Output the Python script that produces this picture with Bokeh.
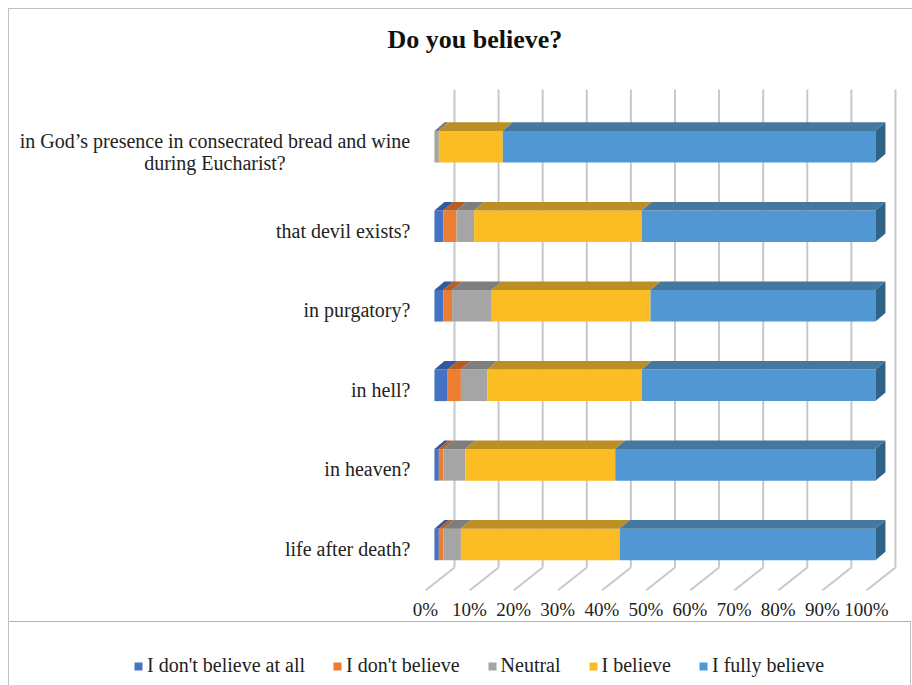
from bokeh.plotting import figure
from bokeh.layouts import column
from bokeh.models import ColumnDataSource, FixedTicker, PrintfTickFormatter, Legend, LegendItem, Range1d
from bokeh.core.properties import value
from bokeh.embed import file_html
from bokeh.resources import INLINE

# ---------------- data (top to bottom as shown) ----------------
categories = [
    "in God\u2019s presence in consecrated bread and wine\nduring Eucharist?",
    "that devil exists?",
    "in purgatory?",
    "in hell?",
    "in heaven?",
    "life after death?",
]
not_at_all = [0, 2, 2, 3, 1, 1]
dont_believe = [0, 3, 2, 3, 1, 1]
neutral = [1, 4, 9, 6, 5, 4]
believe = [14.5, 38, 36, 35, 34, 36]
fully = [84.5, 53, 51, 53, 59, 58]
series_names = ["I don't believe at all", "I don't believe", "Neutral", "I believe", "I fully believe"]
tick_values = [0, 10, 20, 30, 40, 50, 60, 70, 80, 90, 100]

# ---------------- styling / geometry ----------------
FONT = "Liberation Serif"
BORDER = "1px solid #c0c0c0"
front_colors = ["#4472C4", "#ED7D31", "#A5A5A5", "#FBBC24", "#5097D3"]
top_colors = ["#34589A", "#B55F24", "#7E7E7E", "#BC8F25", "#44789F"]
side_colors = ["#2A4680", "#8E4B1C", "#666666", "#9A7519", "#2F6387"]

PXX = 4.4     # pixels per percent
PXY = 79.4    # pixels per category step
W = 903
TOP = 52      # frame top (figure px)
FH = 528      # frame height (figure px)
x0 = -(423 - 8) / PXX
x1 = x0 + W / PXX
y0 = -(588 - 542) / PXY
y1 = y0 + FH / PXY
wall_top = y0 + 500 / PXY

bar_shift = 9 / PXX          # front face offset from floor front
half_h = 15.75 / PXY
dx_top = 10 / PXX
dy_top = 8.5 / PXY
floor_dx = 29 / PXX
floor_back_y = y0 + 23 / PXY

p = figure(frame_width=W, frame_height=FH, output_backend="svg", toolbar_location=None,
           x_range=Range1d(x0, x1), y_range=Range1d(y0, y1),
           y_axis_location=None, min_border_left=0, min_border_right=0,
           min_border_top=TOP, min_border_bottom=32, title="Do you believe?")
p.styles = {"border": BORDER, "border-bottom": "none", "box-sizing": "border-box"}
p.outline_line_color = None
p.xgrid.visible = False
p.ygrid.visible = False
p.title.align = "left"
p.title.text_font = FONT
p.title.text_font_size = "26px"
p.title.text_font_style = "bold"
p.title.text_color = "#111111"
p.title.offset = 378
p.title.standoff = 16

ax = p.xaxis[0]
ax.ticker = FixedTicker(ticks=tick_values)
ax.formatter = PrintfTickFormatter(format="%d%%")
ax.axis_line_color = None
ax.major_tick_line_color = None
ax.minor_tick_line_color = None
ax.major_label_text_font = FONT
ax.major_label_text_font_size = "19px"
ax.major_label_text_color = "#222222"
ax.major_label_standoff = 2

# back wall gridlines and floor lines
ticks = tick_values
p.segment(x0=[t + floor_dx for t in ticks], y0=[floor_back_y] * len(ticks),
          x1=[t + floor_dx for t in ticks], y1=[wall_top] * len(ticks),
          line_color="#c8c8c8", line_width=2)
p.segment(x0=[t + floor_dx for t in ticks], y0=[floor_back_y] * len(ticks),
          x1=ticks, y1=[y0] * len(ticks), line_color="#c8c8c8", line_width=2)

ypos = list(range(len(categories) - 1, -1, -1))
all_series = [not_at_all, dont_believe, neutral, believe, fully]

cum = [0.0] * len(categories)
last_right = [0.0] * len(categories)
last_idx = [0] * len(categories)
for si, vals in enumerate(all_series):
    left = [c + bar_shift for c in cum]
    right = [c + v + bar_shift for c, v in zip(cum, vals)]
    src = ColumnDataSource(dict(y=ypos, left=left, right=right))
    p.hbar(y="y", left="left", right="right", height=2 * half_h, source=src,
           fill_color=front_colors[si], line_color=None)
    xs, ys = [], []
    for i, v in enumerate(vals):
        if v > 0:
            yt = ypos[i] + half_h
            xs.append([left[i], right[i], right[i] + dx_top, left[i] + dx_top])
            ys.append([yt, yt, yt + dy_top, yt + dy_top])
            last_right[i] = right[i]
            last_idx[i] = si
    p.patches(xs=xs, ys=ys, fill_color=top_colors[si], line_color=None)
    cum = [c + v for c, v in zip(cum, vals)]

# right side faces
sxs, sys, scol = [], [], []
for i in range(len(categories)):
    r_ = last_right[i]
    yb, yt = ypos[i] - half_h, ypos[i] + half_h
    sxs.append([r_, r_ + dx_top, r_ + dx_top, r_])
    sys.append([yb, yb + dy_top, yt + dy_top, yt])
    scol.append(side_colors[last_idx[i]])
p.patches(xs=sxs, ys=sys, fill_color=scol, line_color=None)

# category labels
lab_off = -4.5 / PXY
lab_x = -15 / PXX
p.text(x=[lab_x] * (len(categories) - 1), y=[y + lab_off for y in ypos[1:]], text=categories[1:],
       text_align="right", text_baseline="middle", text_font=value(FONT),
       text_font_size="20px", text_color="#222222")
p.text(x=[-(423 - 213) / PXX], y=[ypos[0] - 5 / PXY], text=[categories[0]],
       text_align="center", text_baseline="middle", text_font=value(FONT),
       text_font_size="20px", text_color="#222222", text_line_height=1.0)

# ---------------- legend strip ----------------
LH = 65
p2 = figure(width=W, height=LH, output_backend="svg", toolbar_location=None,
            x_range=Range1d(0, 1), y_range=Range1d(0, 1),
            x_axis_location=None, y_axis_location=None,
            min_border_left=0, min_border_right=0, min_border_top=0, min_border_bottom=0)
p2.styles = {"border": BORDER, "border-top": "none", "box-sizing": "border-box"}
p2.outline_line_color = None
p2.xgrid.visible = False
p2.ygrid.visible = False
items = []
for si, name in enumerate(series_names):
    # legend key renderer kept outside the visible range of this strip
    r = p2.hbar(y=[10], left=[0], right=[1], height=0.1, fill_color=front_colors[si], line_color=None)
    items.append(LegendItem(label=name, renderers=[r]))
legend = Legend(items=items, orientation="horizontal", location=(124, 9),
                glyph_width=10, glyph_height=10, label_standoff=4, spacing=27,
                label_text_font=FONT, label_text_font_size="20px", label_text_color="#222222",
                border_line_color=None, background_fill_alpha=0, padding=3, margin=0)
p2.add_layout(legend, "center")

layout = column(p, p2, spacing=0)
layout.styles = {"margin-left": "8px", "margin-top": "8px"}

open("out.html", "w").write(file_html(layout, INLINE))
